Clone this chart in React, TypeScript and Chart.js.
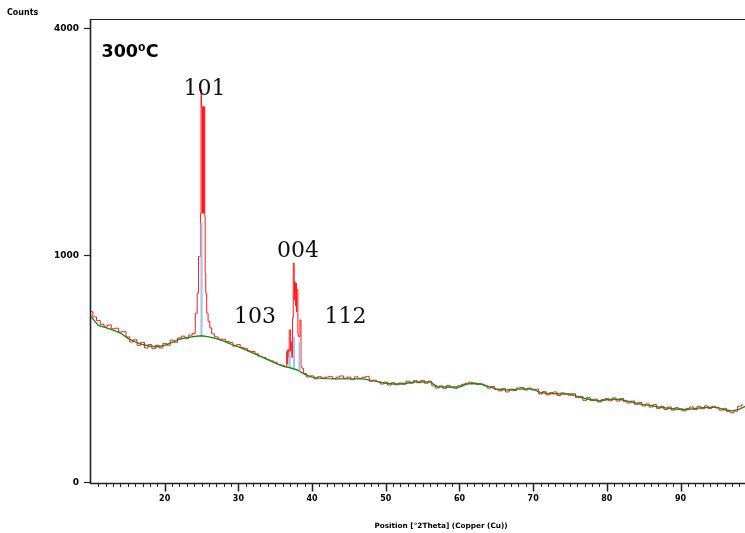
import React, { useEffect, useRef } from "react";
import { Chart, LinearScale, registerables } from "chart.js";

// ---------------- data ----------------
const scanStep = 0.5;

// observed counts, 10.0° .. 23.5°
const scanLowStart = 10;
const scanLow = [
  562, 528, 505, 482, 470, 478, 455, 458, 436, 438, 408, 380, 392, 362,
  378, 348, 366, 345, 362, 348, 372, 362, 390, 378, 402, 412, 398, 418,
];

// observed counts around the 101 reflection
const peak101Angles = [
  24.0, 24.3, 24.52, 24.65, 24.8, 24.9, 24.97, 25.02, 25.06, 25.1, 25.14,
  25.18, 25.22, 25.26, 25.3, 25.34, 25.38, 25.42, 25.46, 25.52, 25.62,
  25.78, 26.0, 26.25, 26.5,
];
const peak101Counts = [
  428, 552, 691, 985, 985, 1400, 2981, 2728, 2728, 1400, 2728, 1400, 2728,
  1400, 2728, 1400, 2728, 2728, 1365, 845, 691, 552, 500, 460, 425,
];

// observed counts, 27.0° .. 36.0°
const scanMidStart = 27;
const scanMid = [
  408, 396, 394, 382, 378, 358, 366, 350, 346, 332, 330, 318, 306, 300, 290,
  284, 278, 268, 264,
];

// observed counts around the 103 / 004 / 112 reflections
const peak004Angles = [
  36.5, 36.6, 36.65, 36.75, 36.85, 36.95, 37.05, 37.12, 37.2, 37.3, 37.4,
  37.5, 37.55, 37.6, 37.65, 37.7, 37.75, 37.8, 37.85, 37.9, 37.95, 38.05,
  38.1, 38.2, 38.3, 38.4, 38.45, 38.55, 38.7, 39.0,
];
const peak004Counts = [
  258, 330, 270, 340, 300, 448, 448, 330, 380, 300, 520, 928, 928, 640, 780,
  700, 766, 600, 766, 560, 720, 715, 420, 409, 409, 509, 509, 258, 250, 228,
];

// observed counts, 39.5° .. 98.5°
const scanHighStart = 39.5;
const scanHigh = [
  214, 218, 206, 215, 209, 213, 216, 207, 213, 218, 209,
  213, 203, 214, 207, 211, 216, 197, 201, 196, 186,
  193, 182, 191, 183, 190, 185, 197, 189, 199, 191,
  200, 189, 197, 179, 171, 179, 170, 180, 173, 170,
  179, 185, 189, 193, 190, 184, 185, 179, 171, 177,
  166, 161, 169, 157, 167, 162, 171, 173, 164, 171,
  164, 167, 150, 158, 147, 155, 157, 145, 154, 152,
  146, 151, 138, 142, 129, 138, 128, 133, 124, 132,
  135, 128, 137, 127, 135, 125, 121, 127, 117, 123,
  112, 118, 109, 116, 105, 111, 102, 109, 100, 107,
  104, 98, 105, 109, 102, 111, 104, 112, 105, 111,
  106, 100, 105, 96, 93, 97, 111, 115,
];

// fitted background, 10° .. 99°, step 1°
const bgStart = 10;
const bgStep = 1;
const bgCounts = [
  530, 475, 462, 447, 430, 400, 380, 366, 357, 354,
  362, 378, 395, 404, 410, 414, 408, 398, 384, 368,
  354, 338, 322, 306, 290, 274, 260, 253, 243, 224,
  213, 209, 207, 206, 206, 206, 206, 206, 200, 194,
  189, 186, 186, 190, 194, 194, 194, 176, 175, 175,
  175, 186, 188, 186, 176, 168, 165, 164, 167, 168,
  167, 155, 152, 151, 150, 150, 142, 135, 131, 127,
  131, 133, 131, 126, 120, 116, 113, 109, 106, 104,
  102, 102, 105, 107, 108, 108, 101, 98, 103, 113,
];

// peak-list sticks
const stickAngles = [25.0, 36.95, 37.55, 38.3];
const stickBase = [414, 252, 248, 243];
const stickTops = [1300, 330, 409, 380];

// axes
const xMin = 10;
const xMax = 98.75;
const xMajorTicks = [20, 30, 40, 50, 60, 70, 80, 90];
const xMinorStep = 1;
const yMin = 0;
const yMax = 4135;
const yTickValues = [0, 1000, 4000];
const yTickLabels = ["0", "1000", "4000"];

// texts
const yTitle = "Counts";
const xTitle = "Position [°2Theta] (Copper (Cu))";
const sampleLabel = "300⁰C";
const peakLabels = ["101", "103", "004", "112"];
const peakLabelAngles = [25.4, 32.26, 38.09, 44.53];
const peakLabelCounts = [2905, 488, 979, 488];

// ---------------- square-root count scale ----------------
class SqrtScale extends LinearScale {
  static id = "sqrt";
  static defaults = LinearScale.defaults;
  getPixelForValue(value: number) {
    const a = Math.sqrt(Math.max(this.min, 0));
    const b = Math.sqrt(Math.max(this.max, 0));
    const v = Math.sqrt(Math.max(value, 0));
    return this.getPixelForDecimal((v - a) / (b - a));
  }
  getValueForPixel(pixel: number) {
    const a = Math.sqrt(Math.max(this.min, 0));
    const b = Math.sqrt(Math.max(this.max, 0));
    const s = a + this.getDecimalForPixel(pixel) * (b - a);
    return s * s;
  }
}

Chart.register(...registerables, SqrtScale as any);

function gridSeries(start: number, step: number, values: number[]) {
  return values.map((v, i) => ({ x: start + i * step, y: v }));
}
function pairSeries(xs: number[], ys: number[]) {
  return xs.map((x, i) => ({ x, y: ys[i] }));
}

const axesPlugin = {
  id: "xrdAxes",
  afterDraw(chart: any) {
    const { ctx, chartArea: ca, scales } = chart;
    const x = scales.x;
    const y = scales.y;
    ctx.save();
    ctx.strokeStyle = "#222";
    ctx.fillStyle = "#000";

    // frame: top line
    ctx.lineWidth = 1;
    ctx.beginPath();
    ctx.moveTo(ca.left, ca.top - 0.5);
    ctx.lineTo(ca.right, ca.top - 0.5);
    ctx.stroke();

    // left & bottom axes
    ctx.lineWidth = 1.6;
    ctx.beginPath();
    ctx.moveTo(ca.left - 0.5, ca.top - 1);
    ctx.lineTo(ca.left - 0.5, ca.bottom + 1.5);
    ctx.lineTo(ca.right, ca.bottom + 1.5);
    ctx.stroke();

    // y ticks
    ctx.lineWidth = 1.2;
    ctx.font = "bold 9px 'DejaVu Sans'";
    ctx.textAlign = "right";
    ctx.textBaseline = "middle";
    yTickValues.forEach((v, i) => {
      const py = Math.round(y.getPixelForValue(v)) + 0.5;
      ctx.beginPath();
      ctx.moveTo(ca.left - 7, py);
      ctx.lineTo(ca.left - 0.5, py);
      ctx.stroke();
      ctx.fillText(yTickLabels[i], ca.left - 12, py);
    });

    // x ticks
    const axisY = ca.bottom + 1.5;
    for (let v = Math.ceil(xMin + 0.5); v <= xMax; v += xMinorStep) {
      const major = xMajorTicks.includes(v);
      const px = Math.round(x.getPixelForValue(v)) + 0.5;
      ctx.lineWidth = major ? 1.5 : 1;
      ctx.beginPath();
      ctx.moveTo(px, axisY);
      ctx.lineTo(px, axisY + (major ? 8 : 3.5));
      ctx.stroke();
    }
    ctx.font = "bold 8px 'DejaVu Sans'";
    ctx.textAlign = "center";
    ctx.textBaseline = "middle";
    xMajorTicks.forEach((v) => {
      const px = x.getPixelForValue(v);
      ctx.fillText(String(v), px, axisY + 15);
    });

    // axis titles
    ctx.font = "bold 8px 'DejaVu Sans'";
    ctx.textAlign = "left";
    ctx.fillText(yTitle, 7, 13);
    ctx.font = "bold 7.3px 'DejaVu Sans'";
    ctx.textAlign = "center";
    ctx.fillText(xTitle, 441, 526);

    // sample label
    ctx.font = "bold 17.5px 'DejaVu Sans'";
    ctx.textAlign = "left";
    ctx.textBaseline = "alphabetic";
    ctx.fillText(sampleLabel, ca.left + 10.5, ca.top + 37.3);

    // peak labels
    ctx.font = "22px 'DejaVu Serif'";
    ctx.textAlign = "center";
    ctx.fillStyle = "#111";
    peakLabels.forEach((t, i) => {
      ctx.fillText(
        t,
        x.getPixelForValue(peakLabelAngles[i]),
        y.getPixelForValue(peakLabelCounts[i])
      );
    });
    ctx.restore();
  },
};

export default function App() {
  const canvasRef = useRef<HTMLCanvasElement | null>(null);

  useEffect(() => {
    document.body.style.margin = "0";
    const canvas = canvasRef.current;
    if (!canvas) return;

    const observed = [
      ...gridSeries(scanLowStart, scanStep, scanLow),
      ...pairSeries(peak101Angles, peak101Counts),
      ...gridSeries(scanMidStart, scanStep, scanMid),
      ...pairSeries(peak004Angles, peak004Counts),
      ...gridSeries(scanHighStart, scanStep, scanHigh),
    ];
    const background = gridSeries(bgStart, bgStep, bgCounts);
    const sticks: any[] = [];
    stickAngles.forEach((a, i) => {
      sticks.push({ x: a, y: stickBase[i] });
      sticks.push({ x: a, y: stickTops[i] });
      sticks.push({ x: a, y: null });
    });

    const chart = new Chart(canvas, {
      type: "line",
      data: {
        datasets: [
          {
            label: "Background",
            data: background,
            borderColor: "#14901a",
            borderWidth: 1.4,
            pointRadius: 0,
            tension: 0,
            order: 0,
          },
          {
            label: "Peak list",
            data: sticks,
            borderColor: "#a8c4ec",
            borderWidth: 2.2,
            pointRadius: 0,
            spanGaps: false,
            order: 1,
          },
          {
            label: "Observed",
            data: observed,
            borderColor: "#ff1a1a",
            borderWidth: 1,
            pointRadius: 0,
            stepped: "middle",
            order: 2,
          },
        ],
      },
      options: {
        responsive: false,
        animation: false,
        events: [],
        layout: { padding: { left: 91, top: 20, right: 0, bottom: 51 } },
        plugins: {
          legend: { display: false },
          tooltip: { enabled: false },
          title: { display: false },
        },
        scales: {
          x: { type: "linear", min: xMin, max: xMax, display: false },
          y: { type: "sqrt" as any, min: yMin, max: yMax, display: false },
        },
      },
      plugins: [axesPlugin],
    } as any);

    return () => chart.destroy();
  }, []);

  return (
    <div style={{ width: 745, height: 533, background: "#fff" }}>
      <canvas ref={canvasRef} width={745} height={533} />
    </div>
  );
}
